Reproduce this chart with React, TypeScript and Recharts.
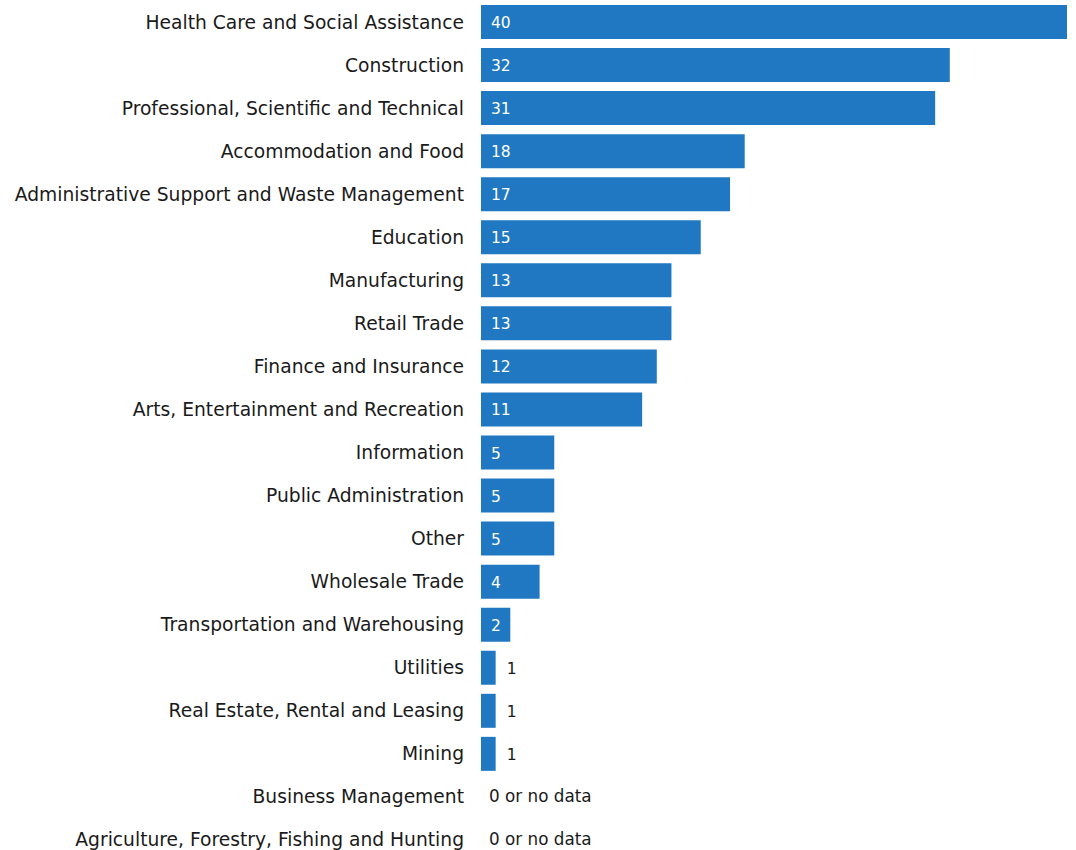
import React from "react";
import { BarChart, Bar, XAxis, YAxis, LabelList } from "recharts";

const categories = [
  "Health Care and Social Assistance",
  "Construction",
  "Professional, Scientific and Technical",
  "Accommodation and Food",
  "Administrative Support and Waste Management",
  "Education",
  "Manufacturing",
  "Retail Trade",
  "Finance and Insurance",
  "Arts, Entertainment and Recreation",
  "Information",
  "Public Administration",
  "Other",
  "Wholesale Trade",
  "Transportation and Warehousing",
  "Utilities",
  "Real Estate, Rental and Leasing",
  "Mining",
  "Business Management",
  "Agriculture, Forestry, Fishing and Hunting",
];

const values = [40, 32, 31, 18, 17, 15, 13, 13, 12, 11, 5, 5, 5, 4, 2, 1, 1, 1, 0, 0];

const zeroLabel = "0 or no data";

const data = categories.map((name, i) => ({ name, value: values[i] }));

const FONT = "'DejaVu Sans', sans-serif";
const BAR_COLOR = "#1f78c1";
const TEXT = "#1a1a1a";

const YTick = (props: any) => {
  const { x, y, payload, index } = props;
  const v = values[index];
  return (
    <g>
      <text
        x={x - 9}
        y={y}
        dy={7}
        textAnchor="end"
        fill={TEXT}
        fontFamily={FONT}
        fontSize={18.7}
      >
        {payload.value}
      </text>
      {v === 0 ? (
        <text x={x + 16} y={y} dy={6} fill={TEXT} fontFamily={FONT} fontSize={16.8}>
          {zeroLabel}
        </text>
      ) : null}
    </g>
  );
};

const ValueLabel = (props: any) => {
  const { x, y, width, height, value } = props;
  const cy = y + height / 2 + 6;
  if (!value) return null;
  if (width < 20) {
    return (
      <text x={x + width + 11} y={cy} fill={TEXT} fontFamily={FONT} fontSize={15.5}>
        {value}
      </text>
    );
  }
  return (
    <text x={x + 10} y={cy} fill="#ffffff" fontFamily={FONT} fontSize={15.5}>
      {value}
    </text>
  );
};

export default function App() {
  return (
    <div style={{ position: "absolute", left: 0, top: 0, background: "#fff" }}>
      <BarChart
        width={1076}
        height={861}
        data={data}
        layout="vertical"
        margin={{ top: 0, right: 9, bottom: 0, left: 0 }}
        barSize={34}
      >
        <XAxis type="number" domain={[0, 40]} hide />
        <YAxis
          type="category"
          dataKey="name"
          width={481}
          axisLine={false}
          tickLine={false}
          tick={<YTick />}
          interval={0}
        />
        <Bar dataKey="value" fill={BAR_COLOR} isAnimationActive={false}>
          <LabelList dataKey="value" content={<ValueLabel />} />
        </Bar>
      </BarChart>
    </div>
  );
}
